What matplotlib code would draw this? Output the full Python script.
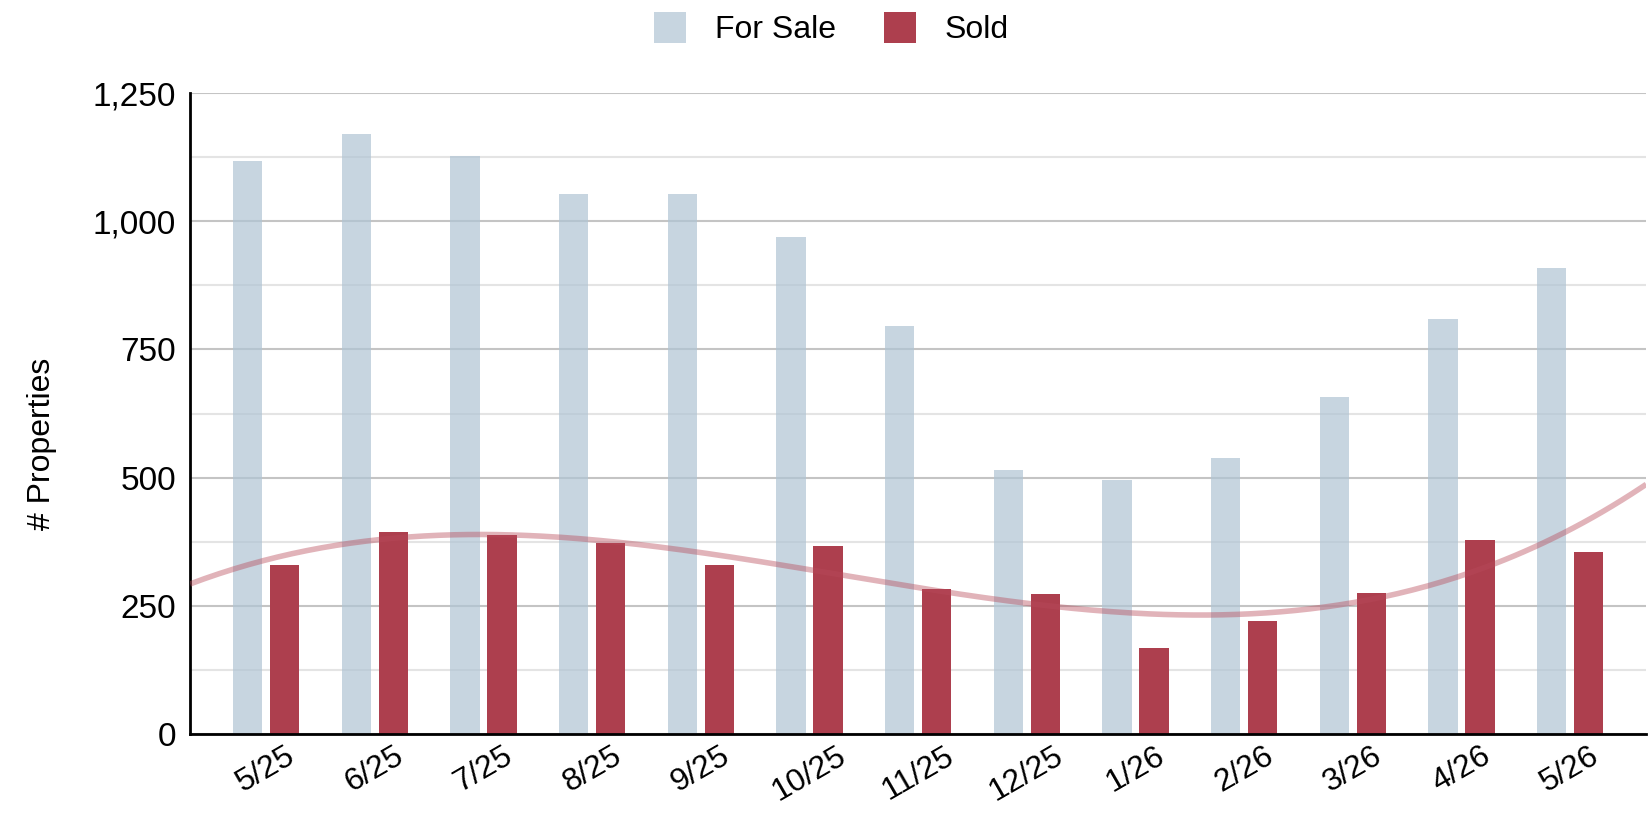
import matplotlib
matplotlib.use('Agg')
import matplotlib.pyplot as plt
from matplotlib.ticker import MultipleLocator, FuncFormatter
import numpy as np

months = ['5/25', '6/25', '7/25', '8/25', '9/25', '10/25', '11/25',
          '12/25', '1/26', '2/26', '3/26', '4/26', '5/26']
for_sale = [1117, 1170, 1127, 1053, 1053, 969, 795, 514, 496, 538, 657, 810, 908]
sold = [330, 393, 389, 373, 330, 367, 283, 273, 167, 221, 274, 378, 355]

plt.rcParams['font.family'] = ['Liberation Sans', 'DejaVu Sans']

fig = plt.figure(figsize=(16.5, 8.14), dpi=100)
ax = fig.add_axes([0.1152, 0.0983, 0.8825, 0.7874])

x = np.arange(len(months))
w = 0.27
gap = 0.068
off = (w + gap) / 2

ax.bar(x - off, for_sale, w, color='#b0c4d4', alpha=0.7, zorder=2, label='For Sale')
ax.bar(x + off, sold, w, color='#ad3f4e', zorder=2, label='Sold')

# cubic trendline through the sold counts
coef = np.polyfit(x, sold, 3)
xt = np.linspace(-0.7, 12.7, 300)
ax.plot(xt, np.polyval(coef, xt), color='#b84a5a', alpha=0.42, lw=4,
        zorder=3, solid_capstyle='butt')

ax.set_xlim(-0.7, 12.7)
ax.set_ylim(0, 1250)
ax.yaxis.set_major_locator(MultipleLocator(250))
ax.yaxis.set_minor_locator(MultipleLocator(125))
ax.yaxis.set_major_formatter(FuncFormatter(lambda v, p: f'{int(v):,}'))
ax.grid(axis='y', which='major', color='#c4c4c4', lw=1.5, zorder=0)
ax.grid(axis='y', which='minor', color='#e4e4e4', lw=1.5, zorder=0)

ax.set_xticks(x)
ax.set_xticklabels(months, rotation=30, ha='center', fontsize=23)
ax.tick_params(axis='y', labelsize=24, length=0, pad=10)
ax.tick_params(axis='x', length=0, pad=5)
ax.tick_params(which='minor', length=0)

for s in ['top', 'right']:
    ax.spines[s].set_visible(False)
ax.spines['left'].set_linewidth(2)
ax.spines['bottom'].set_linewidth(2)

fig.text(0.0255, 0.455, '# Properties', rotation=90, ha='center', va='center',
         fontsize=23)

fig.legend(loc='center', bbox_to_anchor=(0.504, 0.965), ncol=2,
           frameon=False, fontsize=23, handlelength=1.0, handleheight=1.15,
           columnspacing=1.5, handletextpad=0.9)

fig.savefig('out.png', dpi=100)
